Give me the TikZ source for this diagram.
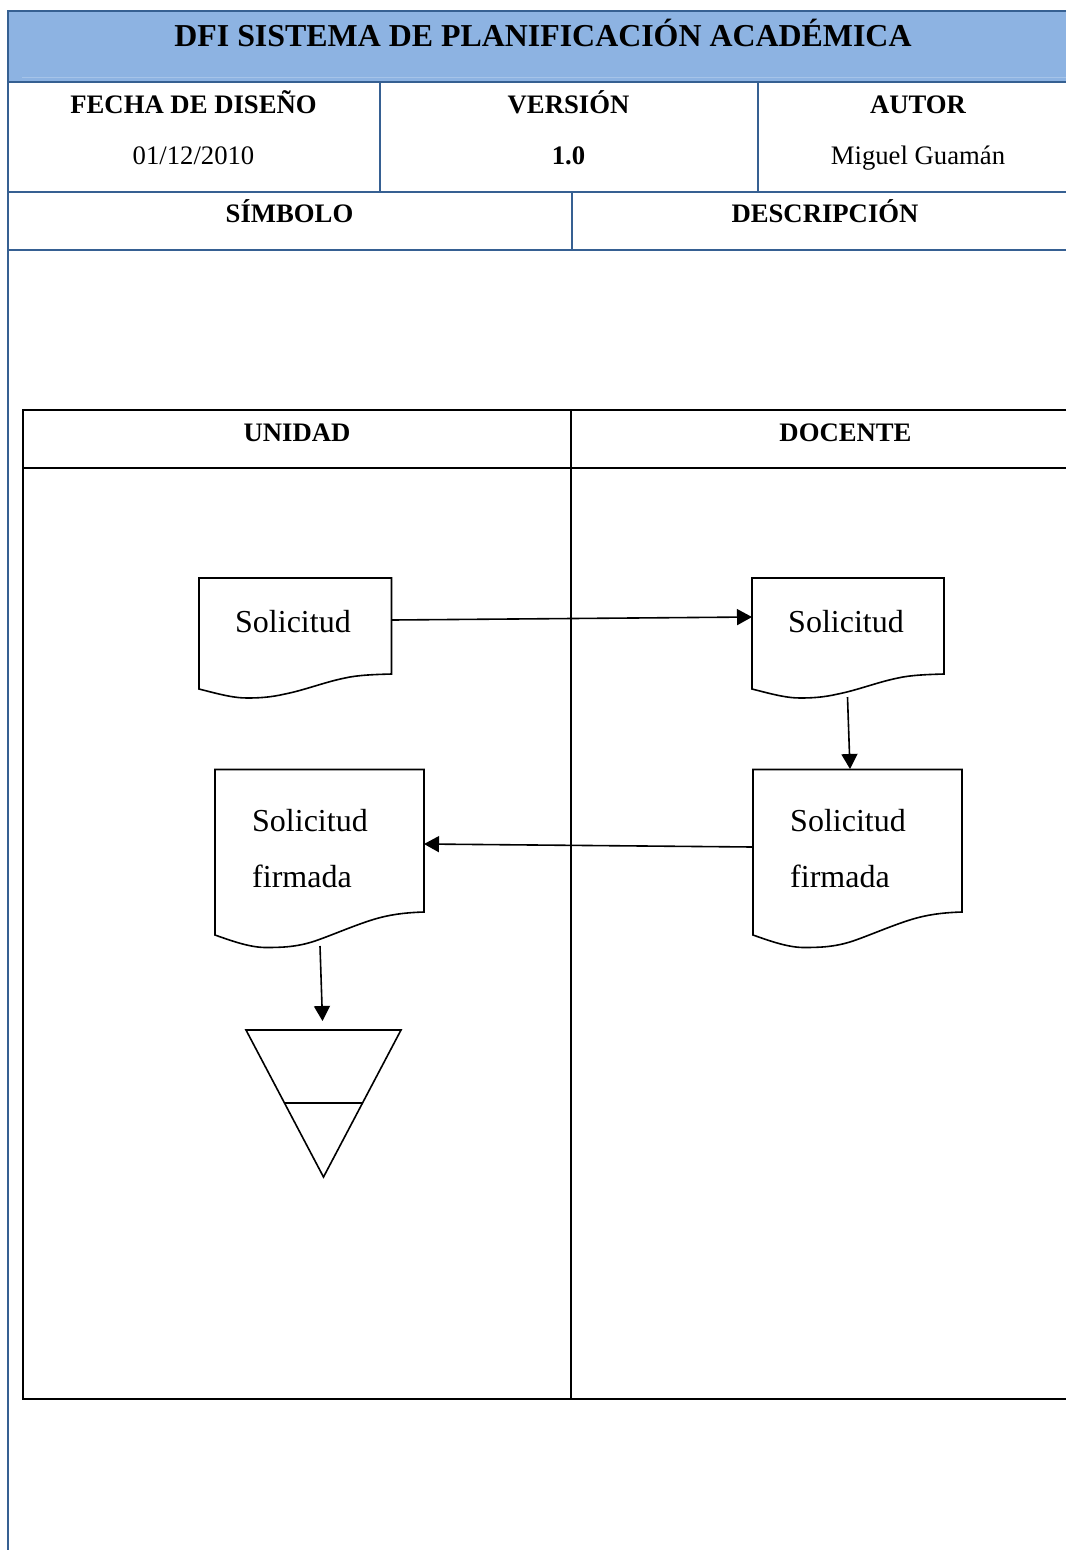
\documentclass[tikz,border=0pt]{standalone}
\usepackage{fontspec}
\setmainfont{Liberation Serif}
\usetikzlibrary{arrows.meta}
\definecolor{bandfill}{HTML}{8DB3E2}
\definecolor{bandline}{HTML}{366092}
\definecolor{bandlight}{HTML}{A6C4E9}
\tikzset{
  rule/.style={draw=bandline,line width=1.6pt},
  ink/.style={draw=black,line width=1.6pt},
  docshape/.style={draw=black,line width=1.6pt,line join=miter},
  flow/.style={draw=black,line width=1.6pt,-{Triangle[length=15pt,width=16pt]},shorten >=0pt},
  title/.style={anchor=base,inner sep=0pt,font=\bfseries\fontsize{31.9}{36}\selectfont},
  head/.style={anchor=base,inner sep=0pt,font=\bfseries\fontsize{26.7}{30}\selectfont},
  body/.style={anchor=base,inner sep=0pt,font=\fontsize{26.7}{30}\selectfont},
  doclabel/.style={anchor=base west,inner sep=0pt,font=\fontsize{32}{36}\selectfont},
}
\begin{document}
\begin{tikzpicture}[x=1pt,y=-1pt]
\useasboundingbox (0,0) rectangle (1066,1550);
% Header table
\fill[bandfill] (8,11) rectangle (1066,81.7);
\draw[bandlight,line width=0.8pt] (22,77) -- (1066,77);
\draw[rule] (1066,11) -- (8,11) -- (8,1550);
\draw[rule] (8,81.7) -- (1066,81.7);
\draw[rule] (8,191.7) -- (1066,191.7);
\draw[rule] (8,249.7) -- (1066,249.7);
\draw[rule] (380,81.7) -- (380,191.7);
\draw[rule] (758,81.7) -- (758,191.7);
\draw[rule] (572,191.7) -- (572,249.7);
\node[title] (ttl) at (543,46) {DFI SISTEMA DE PLANIFICACIÓN ACADÉMICA};
\node[head] (fecha) at (193.5,113) {FECHA DE DISEÑO};
\node[body] (fechav) at (193.5,164) {01/12/2010};
\node[head] (ver) at (568.5,113) {VERSIÓN};
\node[head] (verv) at (568.5,164) {1.0};
\node[head] (aut) at (918,113) {AUTOR};
\node[body] (autv) at (918,164) {Miguel Guamán};
\node[head] (sim) at (289.5,222) {SÍMBOLO};
\node[head] (des) at (825,222) {DESCRIPCIÓN};
% Swimlanes
\draw[ink] (1066,410) -- (23,410) -- (23,1399) -- (1066,1399);
\draw[ink] (23,468) -- (1066,468);
\draw[ink] (571,410) -- (571,1399);
\node[head] (uni) at (297,441) {UNIDAD};
\node[head] (doc) at (845.5,441) {DOCENTE};
% Documents
\draw[docshape] (199,578) -- (391.5,578) -- (391.5,674)
  .. controls (375,674.5) and (358,675) .. (345,678)
  .. controls (325,682) and (305,690) .. (285,694)
  .. controls (270,697.5) and (258,698) .. (247,698)
  .. controls (232,698) and (215,693) .. (199,689) -- cycle;
\draw[docshape] (752,578) -- (944,578) -- (944,674)
  .. controls (928,674.5) and (911,675) .. (898,678)
  .. controls (878,682) and (858,690) .. (838,694)
  .. controls (823,697.5) and (811,698) .. (800,698)
  .. controls (785,698) and (768,693) .. (752,689) -- cycle;
\draw[docshape] (215,769.5) -- (424,769.5) -- (424,912)
  .. controls (408,912.5) and (392,914) .. (375,919)
  .. controls (355,925) and (335,934) .. (315,941)
  .. controls (297,947) and (282,947.5) .. (266,947.5)
  .. controls (250,947.5) and (232,941) .. (215,935) -- cycle;
\draw[docshape] (753,769.5) -- (962,769.5) -- (962,912)
  .. controls (946,912.5) and (930,914) .. (913,919)
  .. controls (893,925) and (873,934) .. (853,941)
  .. controls (835,947) and (820,947.5) .. (804,947.5)
  .. controls (788,947.5) and (770,941) .. (753,935) -- cycle;
\node[doclabel] (s1) at (235,632) {Solicitud};
\node[doclabel] (s2) at (788,632) {Solicitud};
\node[doclabel] (s3) at (252,831) {Solicitud};
\node[doclabel] (f3) at (252,887) {firmada};
\node[doclabel] (s4) at (790,831) {Solicitud};
\node[doclabel] (f4) at (790,887) {firmada};
% Connector ends
\coordinate (a1) at (392,620);
\coordinate (a2) at (752,617);
\coordinate (b1) at (847.5,697);
\coordinate (b2) at (850,769);
\coordinate (c1) at (753,847);
\coordinate (c2) at (424,844);
\coordinate (d1) at (320,946);
\coordinate (d2) at (322.5,1021);
\draw[flow] (a1) -- (a2);
\draw[flow] (b1) -- (b2);
\draw[flow] (c1) -- (c2);
\draw[flow] (d1) -- (d2);
% Storage triangle
\draw[docshape] (246,1030) -- (401,1030) -- (323.5,1177) -- cycle;
\draw[docshape] (285,1103) -- (362,1103);
\end{tikzpicture}
\end{document}
